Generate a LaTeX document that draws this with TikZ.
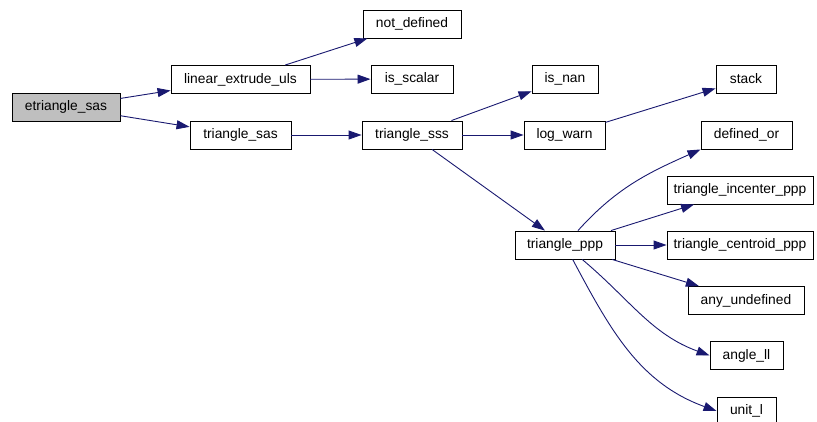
\documentclass[tikz,border=0pt]{standalone}
\usepackage{fontspec}
\setmainfont{Liberation Sans}
\usetikzlibrary{arrows.meta}
\definecolor{edgeblue}{HTML}{191970}
\definecolor{rootgray}{HTML}{BFBFBF}
\begin{document}
\begin{tikzpicture}[x=1pt, y=-1pt,
  fn/.style={draw, line width=0.9pt, minimum height=28pt, inner sep=2pt, font=\fontsize{13.8}{16}\selectfont},
  call/.style={draw=edgeblue, line width=0.9pt, -{Triangle[length=13pt,width=9pt]}}]
\useasboundingbox (0,0) rectangle (817,421);
\node[fn, fill=rootgray, minimum width=108pt] (etri) at (66,107) {etriangle\_sas};
\node[fn, minimum width=139pt] (linext) at (240.5,79.5) {linear\_extrude\_uls};
\node[fn, minimum width=98pt] (notdef) at (412,24) {not\_defined};
\node[fn, minimum width=82pt] (isscalar) at (412,79) {is\_scalar};
\node[fn, minimum width=101pt] (trisas) at (240.5,135) {triangle\_sas};
\node[fn, minimum width=100pt] (trisss) at (412,135) {triangle\_sss};
\node[fn, minimum width=66pt] (isnan) at (565,79) {is\_nan};
\node[fn, minimum width=81pt] (logwarn) at (564.5,135) {log\_warn};
\node[fn, minimum width=60pt] (stack) at (746,79) {stack};
\node[fn, minimum width=91pt] (defor) at (746.5,135) {defined\_or};
\node[fn, minimum width=146pt] (incenter) at (740,190) {triangle\_incenter\_ppp};
\node[fn, minimum width=100pt] (trippp) at (565,245) {triangle\_ppp};
\node[fn, minimum width=146pt] (centroid) at (740,245) {triangle\_centroid\_ppp};
\node[fn, minimum width=116pt] (anyundef) at (746,300.5) {any\_undefined};
\node[fn, minimum width=73pt] (anglell) at (746.5,355.5) {angle\_ll};
\node[fn, minimum width=59pt] (unitl) at (746.5,411) {unit\_l};
\draw[call] (etri) -- (linext);
\draw[call] (etri) -- (trisas);
\draw[call] (linext) -- (notdef);
\draw[call] (linext) -- (isscalar);
\draw[call] (trisas) -- (trisss);
\draw[call] (trisss) -- (isnan);
\draw[call] (trisss) -- (logwarn);
\draw[call] (trisss) -- (trippp);
\draw[call] (logwarn) -- (stack);
\draw[call] (trippp) to[out=48, in=204] (defor.south west);
\draw[call] (trippp) -- (incenter);
\draw[call] (trippp) -- (centroid);
\draw[call] (trippp) -- (anyundef);
\draw[call] (trippp) to[out=-40, in=160] (anglell.west);
\draw[call] (trippp) to[out=-62, in=160] (unitl.west);
\end{tikzpicture}
\end{document}
